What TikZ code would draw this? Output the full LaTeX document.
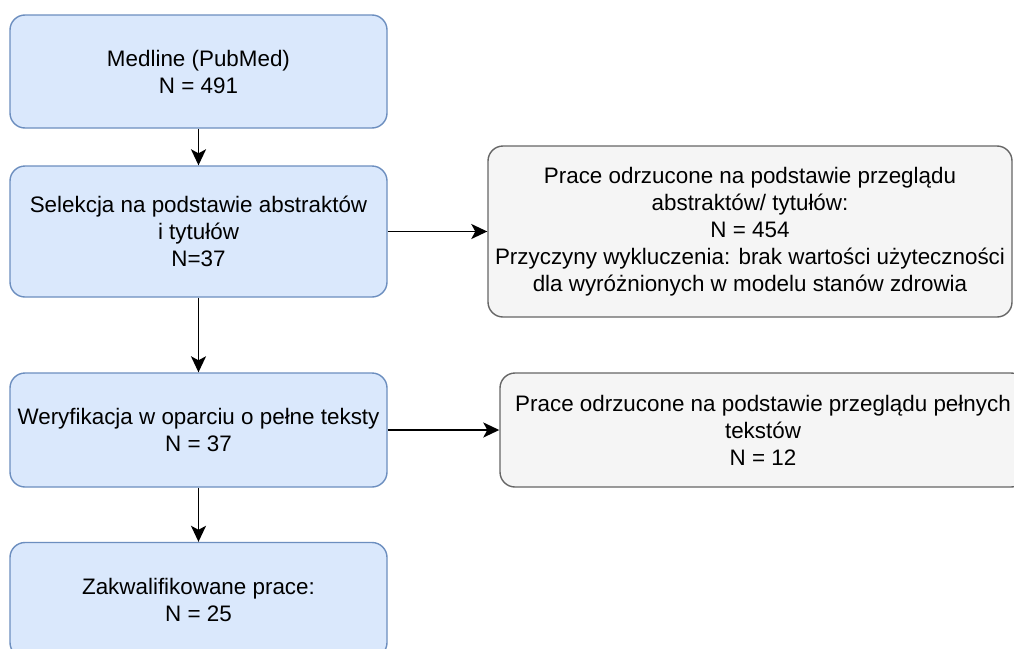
\documentclass[tikz,border=0pt]{standalone}
\usepackage{fontspec}
\setmainfont{Liberation Sans}
\usetikzlibrary{arrows.meta}
\definecolor{bluefill}{HTML}{DAE8FC}
\definecolor{bluedraw}{HTML}{6C8EBF}
\definecolor{grayfill}{HTML}{F5F5F5}
\definecolor{graydraw}{HTML}{666666}
\tikzset{
  bluebox/.style={draw=bluedraw, fill=bluefill, line width=1.4pt, rounded corners=15pt,
    minimum width=377pt, align=center, inner sep=0pt,
    font=\fontsize{22.4}{27}\selectfont},
  graybox/.style={draw=graydraw, fill=grayfill, line width=1.4pt, rounded corners=15pt,
    align=center, inner sep=0pt, font=\fontsize{22.4}{27}\selectfont},
  conn/.style={draw=black, line width=1.9pt, -{Stealth[length=16pt,width=15pt,inset=4pt]}}
}
\begin{document}
\begin{tikzpicture}[x=1pt,y=-1pt]
\useasboundingbox (0,0) rectangle (1014,648);
\clip (0,0) rectangle (1014,648);
\fill[white] (0,0) rectangle (1014,648);
\node[bluebox, minimum height=113pt] (b1) at (198.5,71.5) {Medline (PubMed)\\N = 491};
\node[bluebox, minimum height=131pt] (b2) at (198.5,231.5) {Selekcja na podstawie abstraktów\\i tytułów\\N=37};
\node[bluebox, minimum height=114pt] (b3) at (198.5,430) {Weryfikacja w oparciu o pełne teksty\\N = 37};
\node[bluebox, minimum height=115pt] (b4) at (198.5,600) {Zakwalifikowane prace:\\N = 25};
\node[graybox, minimum width=524pt, minimum height=171pt] (r1) at (750,231.5) {Prace odrzucone na podstawie przeglądu\\abstraktów/ tytułów:\\N = 454\\Przyczyny wykluczenia: brak wartości użyteczności\\dla wyróżnionych w modelu stanów zdrowia};
\node[graybox, minimum width=526pt, minimum height=114pt] (r2) at (763,430) {Prace odrzucone na podstawie przeglądu pełnych\\tekstów\\N = 12};
\draw[conn] (b1) -- (b2);
\draw[conn] (b2) -- (b3);
\draw[conn] (b3) -- (b4);
\draw[conn] (b2) -- (r1);
\draw[conn] (b3) -- (r2);
\end{tikzpicture}
\end{document}
